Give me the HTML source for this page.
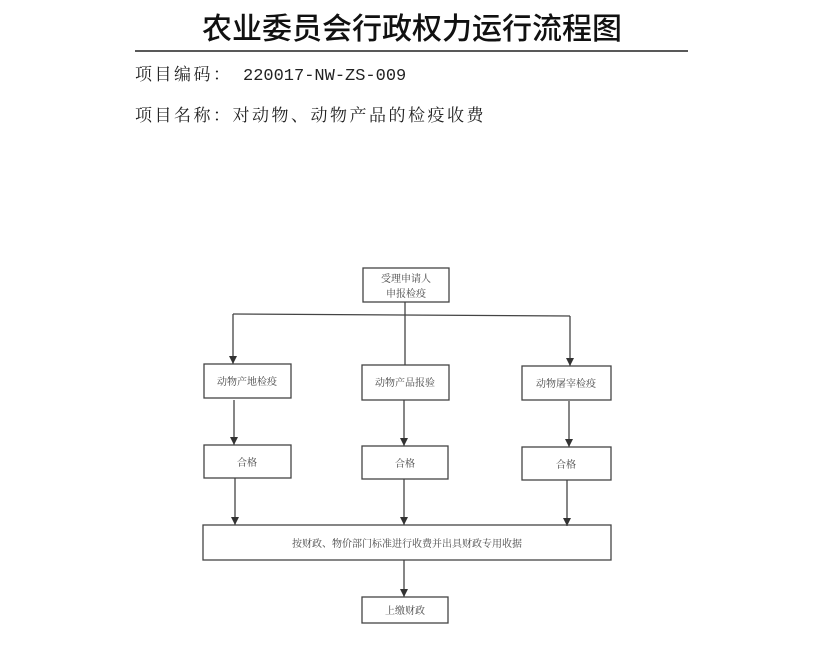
<!DOCTYPE html>
<html><head><meta charset="utf-8"><style>
body{margin:0;background:#fff;width:823px;height:642px;overflow:hidden}
</style></head><body>
<svg width="823" height="642" xmlns="http://www.w3.org/2000/svg" font-family="'Liberation Serif','Noto Serif CJK SC',serif">
<defs><marker id="a" markerWidth="8" markerHeight="8" refX="8" refY="4" orient="auto" markerUnits="userSpaceOnUse"><path d="M0,0 L8,4 L0,8 z" fill="#333"/></marker></defs>
<text x="412" y="39" font-size="30" text-anchor="middle" fill="#111" font-family="'Liberation Sans','Noto Sans CJK SC',sans-serif" font-weight="500">农业委员会行政权力运行流程图</text>
<line x1="135" y1="51" x2="688" y2="51" stroke="#222" stroke-width="1.5"/>
<text x="135" y="80" font-size="17" fill="#222" letter-spacing="2.5">项目编码：</text>
<text x="243" y="80" font-size="17" fill="#222" font-family="'Liberation Mono',monospace">220017-NW-ZS-009</text>
<text x="135" y="121" font-size="17" fill="#222" letter-spacing="2.5">项目名称：对动物、动物产品的检疫收费</text>
<g stroke="#444" stroke-width="1.3" fill="none">
<rect x="363" y="268" width="86" height="34"/>
<line x1="405" y1="302" x2="405" y2="365"/>
<line x1="233" y1="314" x2="570" y2="316"/>
<line x1="233" y1="314" x2="233" y2="364" marker-end="url(#a)"/>
<line x1="570" y1="316" x2="570" y2="366" marker-end="url(#a)"/>
<rect x="204" y="364" width="87" height="34"/>
<rect x="362" y="365" width="87" height="35"/>
<rect x="522" y="366" width="89" height="34"/>
<line x1="234" y1="400" x2="234" y2="445" marker-end="url(#a)"/>
<line x1="404" y1="400" x2="404" y2="446" marker-end="url(#a)"/>
<line x1="569" y1="401" x2="569" y2="447" marker-end="url(#a)"/>
<rect x="204" y="445" width="87" height="33"/>
<rect x="362" y="446" width="86" height="33"/>
<rect x="522" y="447" width="89" height="33"/>
<line x1="235" y1="478" x2="235" y2="525" marker-end="url(#a)"/>
<line x1="404" y1="479" x2="404" y2="525" marker-end="url(#a)"/>
<line x1="567" y1="480" x2="567" y2="526" marker-end="url(#a)"/>
<rect x="203" y="525" width="408" height="35"/>
<line x1="404" y1="560" x2="404" y2="597" marker-end="url(#a)"/>
<rect x="362" y="597" width="86" height="26"/>
</g>
<g font-size="10" fill="#444" text-anchor="middle">
<text x="406" y="282">受理申请人</text>
<text x="406" y="297">申报检疫</text>
<text x="247" y="385">动物产地检疫</text>
<text x="405" y="386">动物产品报验</text>
<text x="566" y="387">动物屠宰检疫</text>
<text x="247" y="466">合格</text>
<text x="405" y="467">合格</text>
<text x="566" y="468">合格</text>
<text x="407" y="547">按财政、物价部门标准进行收费并出具财政专用收据</text>
<text x="405" y="614">上缴财政</text>
</g>
</svg>
</body></html>
